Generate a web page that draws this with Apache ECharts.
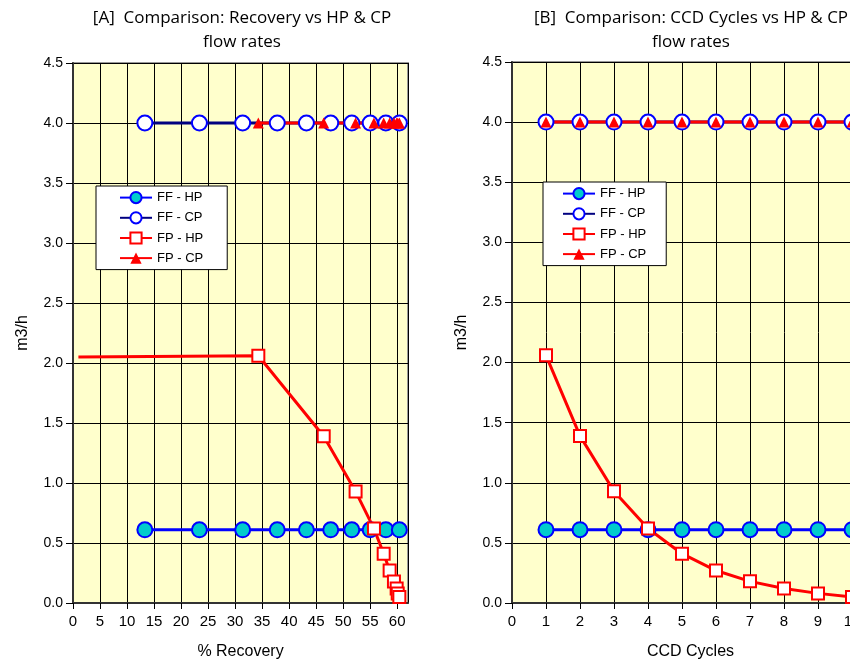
<!DOCTYPE html>
<html>
<head>
<meta charset="utf-8">
<script src="https://cdn.jsdelivr.net/npm/echarts@6/dist/echarts.min.js"></script>
<style>
html,body{margin:0;padding:0;background:#fff;}
#chart{width:850px;height:664px;}
</style>
</head>
<body>
<div id="chart"></div>
<script>
// ---- data ----
var cycles = [1, 2, 3, 4, 5, 6, 7, 8, 9, 10];
var ffRecovery = [13.3, 23.4, 31.4, 37.8, 43.2, 47.7, 51.6, 55.0, 57.9, 60.4];
var fpRecovery = [34.3, 46.4, 52.3, 55.7, 57.5, 58.6, 59.4, 59.9, 60.1, 60.4];
var fpHpStart = [1.0, 2.05];
var ffHp = [0.61, 0.61, 0.61, 0.61, 0.61, 0.61, 0.61, 0.61, 0.61, 0.61];
var ffCp = [4.0, 4.0, 4.0, 4.0, 4.0, 4.0, 4.0, 4.0, 4.0, 4.0];
var fpHp = [2.06, 1.39, 0.93, 0.62, 0.41, 0.27, 0.18, 0.12, 0.08, 0.05];
var fpCp = [4.0, 4.0, 4.0, 4.0, 4.0, 4.0, 4.0, 4.0, 4.0, 4.0];
var seriesNames = ['FF - HP', 'FF - CP', 'FP - HP', 'FP - CP'];
var titles = ['[A]  Comparison: Recovery vs HP & CP\nflow rates', '[B]  Comparison: CCD Cycles vs HP & CP\nflow rates'];
var xNames = ['% Recovery', 'CCD Cycles'];
var yName = 'm3/h';

function pairs(xs, ys) { return xs.map(function (x, i) { return [x, ys[i]]; }); }

var FONT = 'Liberation Sans, Arial, sans-serif';

var styles = {
  'FF - HP': { symbol: 'circle', symbolSize: 15, line: '#0000FF', fill: '#00CCCC', border: '#0000FF', bw: 2 },
  'FF - CP': { symbol: 'circle', symbolSize: 15, line: '#000080', fill: '#FFFFFF', border: '#0000FF', bw: 2 },
  'FP - HP': { symbol: 'rect', symbolSize: 12, line: '#FF0000', fill: '#FFFFFF', border: '#FF0000', bw: 2 },
  'FP - CP': { symbol: 'triangle', symbolSize: 11, line: '#FF0000', fill: '#FF0000', border: '#FF0000', bw: 0 }
};

function mk(name, data, idx) {
  var s = styles[name];
  return {
    name: name, type: 'line', xAxisIndex: idx, yAxisIndex: idx,
    data: data, symbol: s.symbol, symbolSize: s.symbolSize, showAllSymbol: true,
    lineStyle: { color: s.line, width: 3 },
    itemStyle: { color: s.fill, borderColor: s.border, borderWidth: s.bw },
    emphasis: { disabled: true }, animation: false, clip: false
  };
}

var leftFpHp = [{ value: fpHpStart, symbol: 'none' }].concat(pairs(fpRecovery, fpHp));

var series = [
  mk('FF - HP', pairs(ffRecovery, ffHp), 0),
  mk('FF - CP', pairs(ffRecovery, ffCp), 0),
  mk('FP - HP', leftFpHp, 0),
  mk('FP - CP', pairs(fpRecovery, fpCp), 0),
  mk('FF - HP', pairs(cycles, ffHp), 1),
  mk('FF - CP', pairs(cycles, ffCp), 1),
  mk('FP - HP', pairs(cycles, fpHp), 1),
  mk('FP - CP', pairs(cycles, fpCp), 1)
];

function xAxis(idx, max, interval, name) {
  return {
    type: 'value', gridIndex: idx, min: 0, max: max, interval: interval,
    name: name, nameLocation: 'middle', nameGap: 41,
    nameTextStyle: { fontFamily: FONT, fontSize: 16, color: '#000' },
    axisLine: { show: true, onZero: false, lineStyle: { color: '#333', width: 2 } },
    axisTick: { show: true, length: 6, inside: false, lineStyle: { color: '#000', width: 1 } },
    axisLabel: { fontFamily: FONT, fontSize: 15, color: '#000', margin: 11, showMaxLabel: false,
      formatter: function (v) { return (Math.abs(v / interval - Math.round(v / interval)) < 1e-6) ? String(Math.round(v)) : ''; } },
    splitLine: { show: true, lineStyle: { color: '#000', width: 1 } }
  };
}
function yAxis(idx) {
  return {
    type: 'value', gridIndex: idx, min: 0, max: 4.5, interval: 0.5,
    name: yName, nameLocation: 'middle', nameGap: 42, nameRotate: 90,
    nameTextStyle: { fontFamily: FONT, fontSize: 16, color: '#000' },
    axisLine: { show: true, lineStyle: { color: '#333', width: 2 } },
    axisTick: { show: true, length: 7, inside: false, lineStyle: { color: '#000', width: 1 } },
    axisLabel: { fontFamily: FONT, fontSize: 14, color: '#000', margin: 10,
      formatter: function (v) { return v.toFixed(1); } },
    splitLine: { show: true, lineStyle: { color: '#000', width: 1 } }
  };
}

function legend(left, top, pad) {
  return {
    orient: 'vertical', left: left, top: top, data: seriesNames,
    backgroundColor: '#FFFFFF', borderColor: '#000', borderWidth: 1,
    padding: pad, itemGap: 7, itemWidth: 32, itemHeight: 14,
    textStyle: { fontFamily: FONT, fontSize: 13, color: '#000' },
    selectedMode: false
  };
}

var chart = echarts.init(document.getElementById('chart'), null, { renderer: 'canvas' });
chart.setOption({
  animation: false,
  backgroundColor: '#FFFFFF',
  title: [
    { text: titles[0], left: 237, top: 1, textAlign: 'center',
      textStyle: { fontFamily: 'Open Sans, sans-serif', fontSize: 17, fontWeight: 'normal', color: '#000', lineHeight: 24 } },
    { text: titles[1], left: 686, top: 1, textAlign: 'center',
      textStyle: { fontFamily: 'Open Sans, sans-serif', fontSize: 17, fontWeight: 'normal', color: '#000', lineHeight: 24 } }
  ],
  legend: [legend(96, 186, [5, 24, 5, 23]), legend(543, 182, [5, 20, 5, 19])],
  grid: [
    { left: 73, top: 63, width: 335, height: 540, outerBoundsMode: 'none', show: true, backgroundColor: '#FFFFCC', borderColor: '#999', borderWidth: 2 },
    { left: 512, top: 62, width: 357, height: 541, outerBoundsMode: 'none', show: true, backgroundColor: '#FFFFCC', borderColor: '#999', borderWidth: 2 }
  ],
  xAxis: [xAxis(0, 62, 5, xNames[0]), xAxis(1, 10.5, 1, xNames[1])],
  yAxis: [yAxis(0), yAxis(1)],
  series: series
});
</script>
</body>
</html>
